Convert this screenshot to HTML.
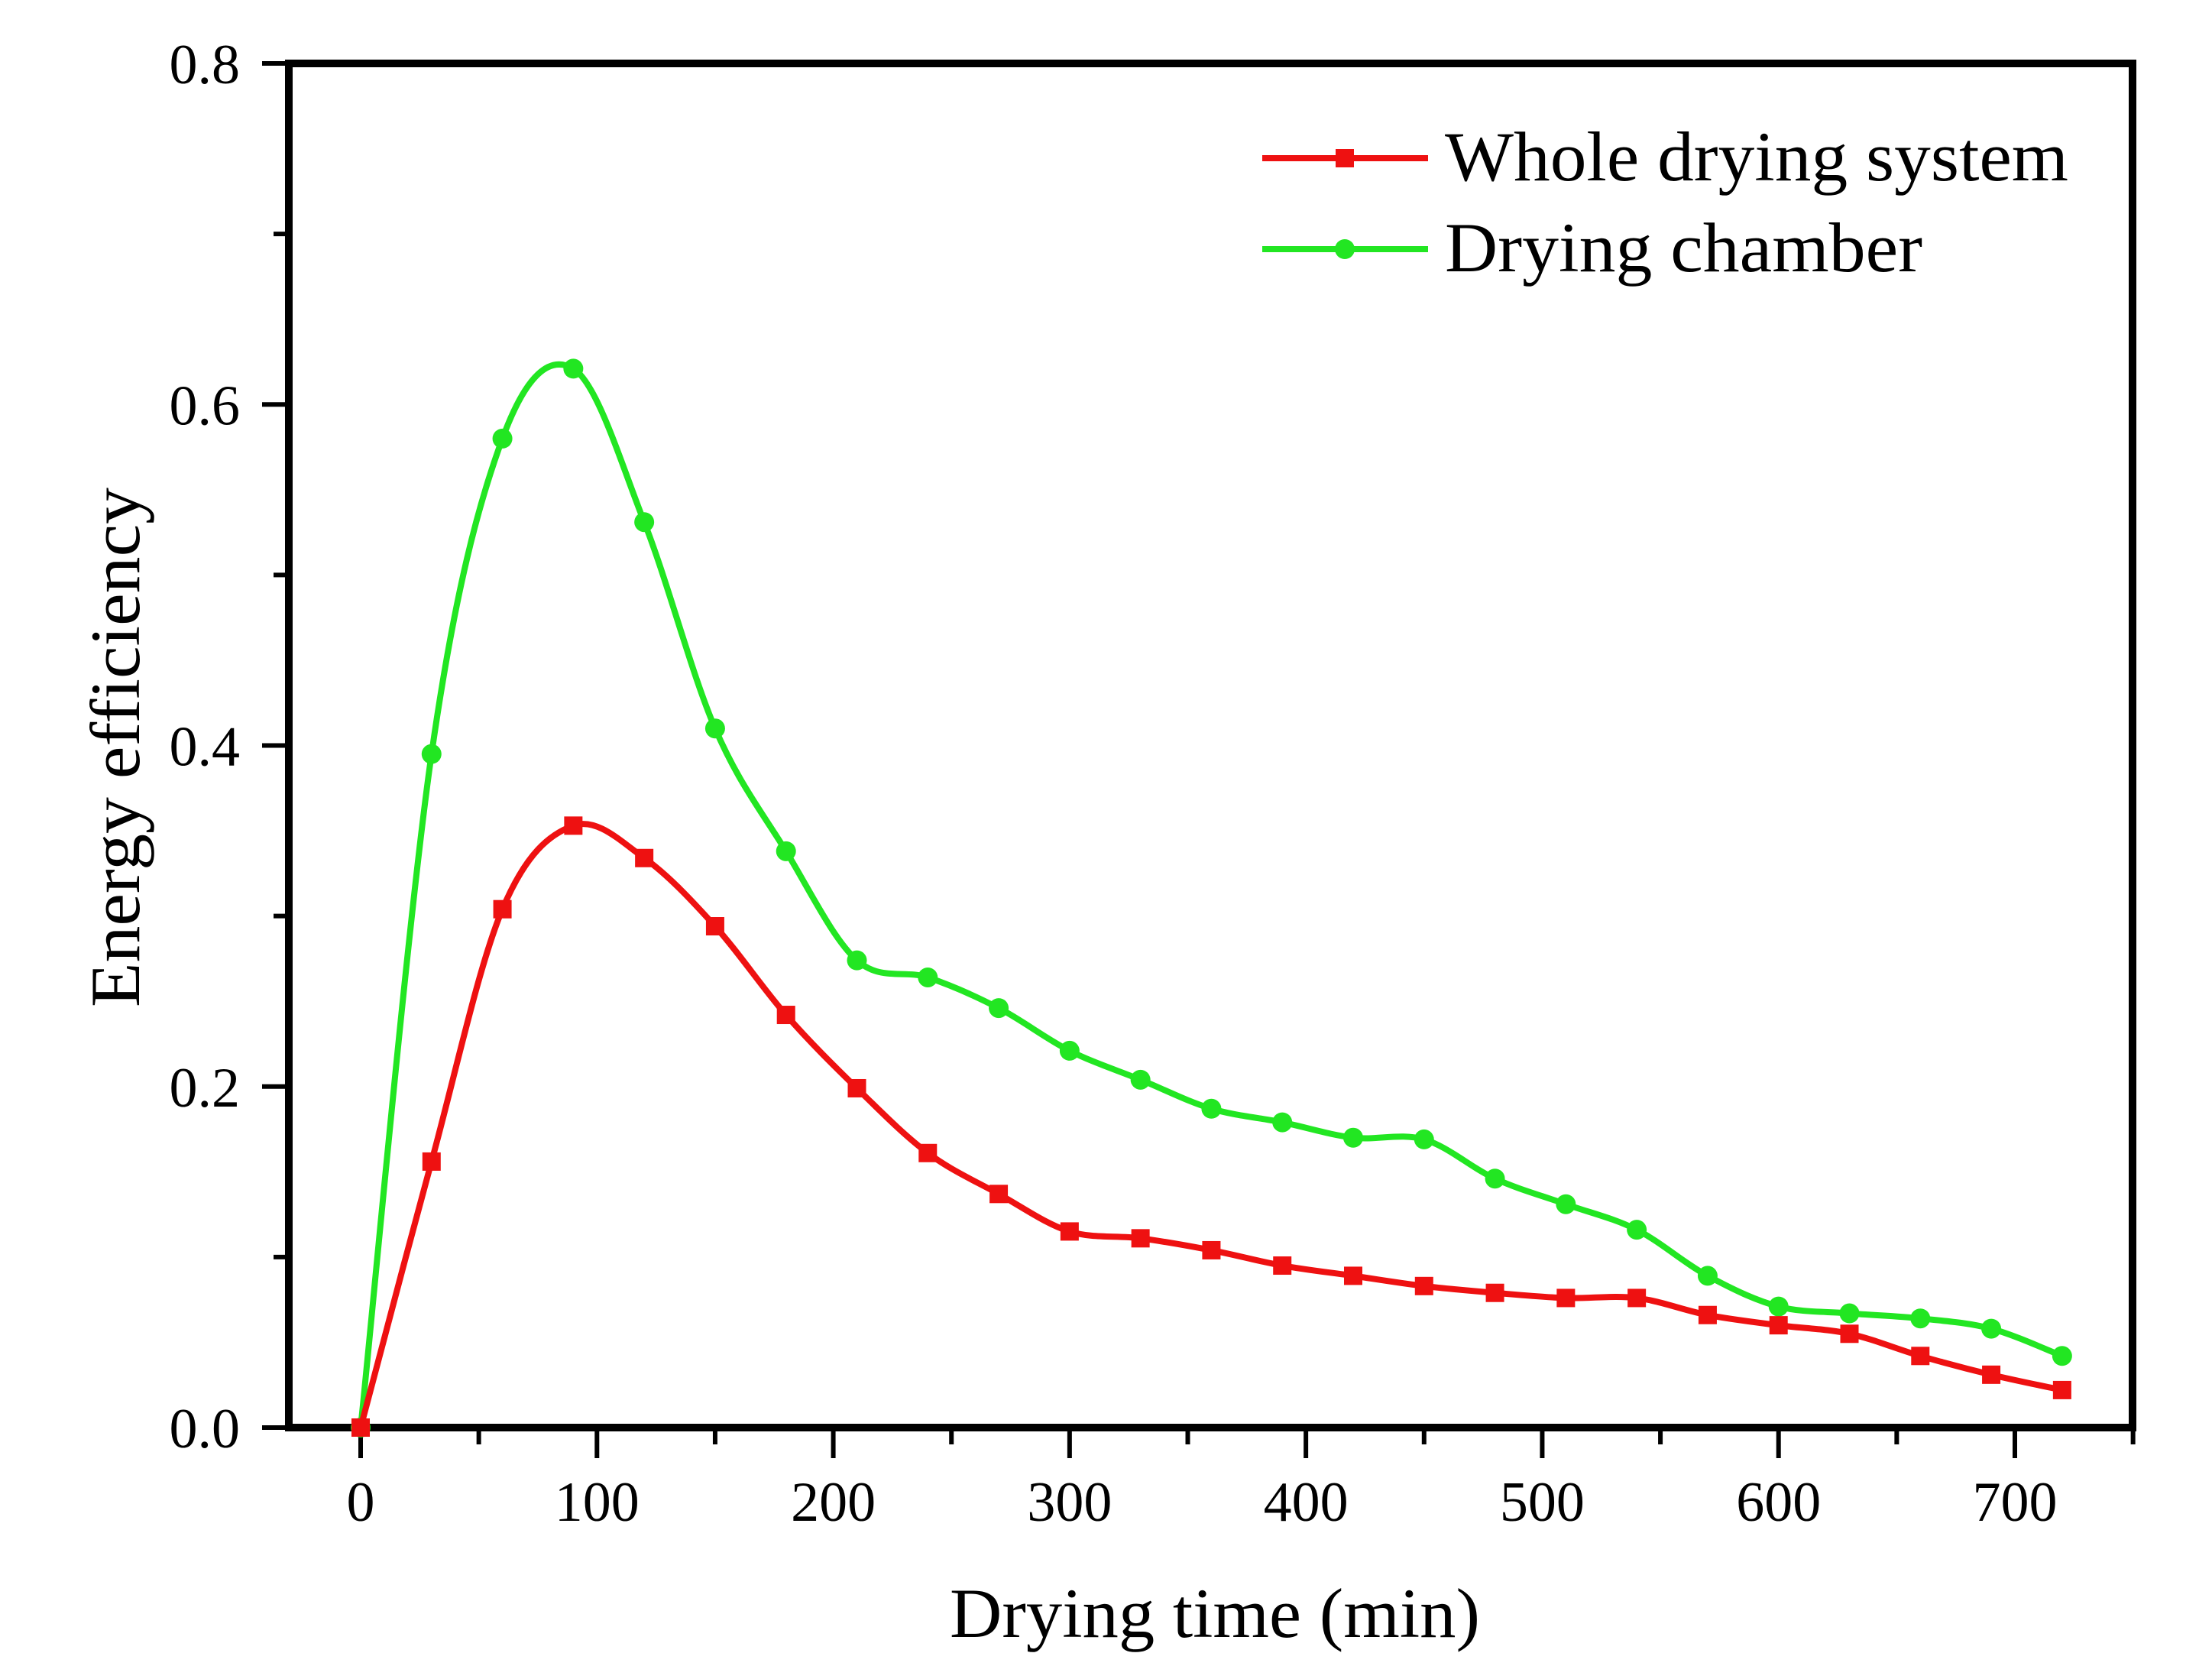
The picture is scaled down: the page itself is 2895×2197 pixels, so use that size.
<!DOCTYPE html>
<html><head><meta charset="utf-8"><style>
html,body{margin:0;padding:0;background:#fff;}
svg{display:block;font-family:"Liberation Serif",serif;}
</style></head><body>
<svg id="chart" width="2895" height="2197" viewBox="0 0 2895 2197">
<g id="axes"></g>
<g id="series"></g>
<g id="legend">
  <line x1="1652" y1="207" x2="1869" y2="207" stroke="#ee1111" stroke-width="8"/>
  <rect x="1748" y="195" width="24" height="24" fill="#ee1111"/>
  <text x="1891" y="236" font-size="92" textLength="816" lengthAdjust="spacingAndGlyphs">Whole drying system</text>
  <line x1="1652" y1="326" x2="1869" y2="326" stroke="#22e622" stroke-width="8"/>
  <circle cx="1760" cy="326" r="13" fill="#22e622"/>
  <text x="1891" y="355" font-size="92" textLength="625" lengthAdjust="spacingAndGlyphs">Drying chamber</text>
</g>
<text x="1590" y="2142" font-size="92" text-anchor="middle" textLength="694" lengthAdjust="spacingAndGlyphs">Drying time (min)</text>
<text transform="translate(182,978) rotate(-90)" x="0" y="0" font-size="92" text-anchor="middle" textLength="680" lengthAdjust="spacingAndGlyphs">Energy efficiency</text>
</svg>
<script>
const times = [0,30,60,90,120,150,180,210,240,270,300,330,360,390,420,450,480,510,540,570,600,630,660,690,720];
const wholeSystem = [0,0.156,0.304,0.353,0.334,0.294,0.242,0.199,0.161,0.137,0.115,0.111,0.104,0.095,0.089,0.083,0.079,0.076,0.076,0.066,0.060,0.055,0.042,0.031,0.022];
const dryingChamber = [0,0.395,0.580,0.621,0.531,0.410,0.338,0.274,0.264,0.246,0.221,0.204,0.187,0.179,0.170,0.169,0.146,0.131,0.116,0.089,0.071,0.067,0.064,0.058,0.042];
const xTicks = [0,100,200,300,400,500,600,700];
const yTicks = [0.0,0.2,0.4,0.6,0.8];

const NS = "http://www.w3.org/2000/svg";
const L=378, T=83, R=2791, B=1868;
function xs(v){return 472 + v*(2637-472)/700;}
function ys(v){return B - v*(B-T)/0.8;}
function mk(tag, attrs, parent){const e=document.createElementNS(NS,tag);for(const k in attrs)e.setAttribute(k,attrs[k]);parent.appendChild(e);return e;}

const axes=document.getElementById('axes');
const frame=mk('rect',{x:L,y:T,width:R-L,height:B-T,fill:'none',stroke:'#000','stroke-width':10},axes);


for(let v=0; v<=750; v+=50){
  const major = v%100===0;
  const t=mk('line',{x1:xs(v),y1:B,x2:xs(v),y2:B+(major?40:22),stroke:'#000','stroke-width':6},axes);
  
  
}
xTicks.forEach(v=>{
  const t=mk('text',{x:xs(v),y:1990,'font-size':74,'text-anchor':'middle'},axes);
  t.textContent=String(v);
  
  
});
for(let i=0;i<=8;i++){
  const v=i*0.1, major=i%2===0;
  const t=mk('line',{x1:L-(major?35:20),y1:ys(v),x2:L,y2:ys(v),stroke:'#000','stroke-width':6},axes);
  
  
}
yTicks.forEach(v=>{
  const t=mk('text',{x:314,y:ys(v)+26,'font-size':74,'text-anchor':'end'},axes);
  t.textContent=v.toFixed(1);
  
  
});

function smoothPath(pts){
  let d='M'+pts[0][0]+','+pts[0][1];
  for(let i=0;i<pts.length-1;i++){
    const p0=pts[i-1]||pts[i], p1=pts[i], p2=pts[i+1], p3=pts[i+2]||p2;
    const c1=[p1[0]+(p2[0]-p0[0])/6, p1[1]+(p2[1]-p0[1])/6];
    const c2=[p2[0]-(p3[0]-p1[0])/6, p2[1]-(p3[1]-p1[1])/6];
    d+=' C'+c1[0]+','+c1[1]+' '+c2[0]+','+c2[1]+' '+p2[0]+','+p2[1];
  }
  return d;
}
const series=document.getElementById('series');
function drawSeries(vals,color,shape,name){
  const pts=times.map((t,i)=>[xs(t),ys(vals[i])]);
  const p=mk('path',{d:smoothPath(pts),fill:'none',stroke:color,'stroke-width':8},series);
  
  
  pts.forEach(pt=>{
    let m;
    if(shape==='square') m=mk('rect',{x:pt[0]-12,y:pt[1]-12,width:24,height:24,fill:color},series);
    else m=mk('circle',{cx:pt[0],cy:pt[1],r:13,fill:color},series);
    
    
  });
}
drawSeries(dryingChamber,'#22e622','circle','drying-chamber');
drawSeries(wholeSystem,'#ee1111','square','whole-system');
</script>
</body></html>
